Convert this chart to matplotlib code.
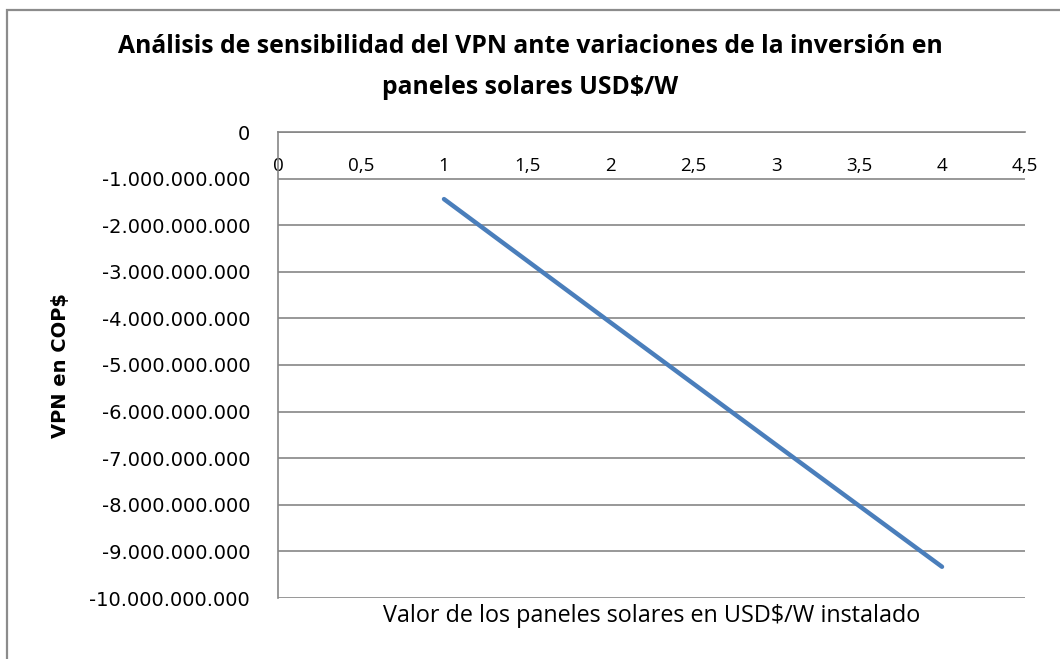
import matplotlib.pyplot as plt
from matplotlib.patches import Rectangle
from matplotlib.ticker import FuncFormatter, MultipleLocator

# data
precio = [1, 2, 3, 4]  # USD$/W
vpn = [-1.44e9, -4.08e9, -6.71e9, -9.33e9]  # COP$

titulo = "Análisis de sensibilidad del VPN ante variaciones de la inversión en\npaneles solares USD$/W"
xlabel = "Valor de los paneles solares en USD$/W instalado"
ylabel = "VPN en COP$"

fig = plt.figure(figsize=(10.6, 6.59), dpi=100)
fig.patch.set_facecolor("white")

# chart frame like excel (runs off the right and bottom)
fig.patches.append(Rectangle((6.5 / 1060, -0.1), 1.2, 1 - 10 / 659 + 0.1,
                             transform=fig.transFigure, fill=False,
                             edgecolor="#8c8c8c", linewidth=1.6))

ax = fig.add_axes([278 / 1060, 1 - 598 / 659, (1025 - 278) / 1060, (598 - 132) / 659])
ax.plot(precio, vpn, color="#4a7ebb", linewidth=3.2, solid_capstyle="round")

ax.set_xlim(0, 4.5)
ax.set_ylim(-10e9, 0)
ax.xaxis.set_major_locator(MultipleLocator(0.5))
ax.yaxis.set_major_locator(MultipleLocator(1e9))


def fmt_x(v, pos):
    return f"{v:g}".replace(".", ",")


def fmt_y(v, pos):
    s = f"{int(round(v)):,}".replace(",", ".")
    return s


ax.xaxis.set_major_formatter(FuncFormatter(fmt_x))
ax.yaxis.set_major_formatter(FuncFormatter(fmt_y))

# x axis sits on the 0 line, labels just under it
ax.spines["top"].set_color("#868686")
ax.spines["bottom"].set_visible(False)
ax.spines["right"].set_visible(False)
ax.spines["left"].set_color("#868686")
ax.spines["top"].set_linewidth(1.2)
ax.spines["left"].set_linewidth(1.2)
ax.xaxis.set_ticks_position("top")
ax.tick_params(axis="x", which="both", length=0, pad=-31, labelsize=13.5,
               labeltop=True, labelbottom=False)
ax.tick_params(axis="y", length=0, pad=20, labelsize=14)
for lab in ax.get_xticklabels():
    lab.set_verticalalignment("bottom")
    lab.set_fontfamily("Open Sans")
ax.yaxis.grid(True, color="#868686", linewidth=1.2)
ax.set_axisbelow(True)

ax.set_xlabel(xlabel, fontsize=16.8, fontfamily="Open Sans", labelpad=4)
ax.xaxis.set_label_position("bottom")
ax.set_ylabel(ylabel, fontsize=14, fontweight="bold", labelpad=14)

fig.text(0.5, 1 - 67 / 659, titulo, ha="center", va="center", fontsize=17.8,
         fontweight="bold", fontfamily="Open Sans", linespacing=1.8)

fig.savefig("out.png", dpi=100)
